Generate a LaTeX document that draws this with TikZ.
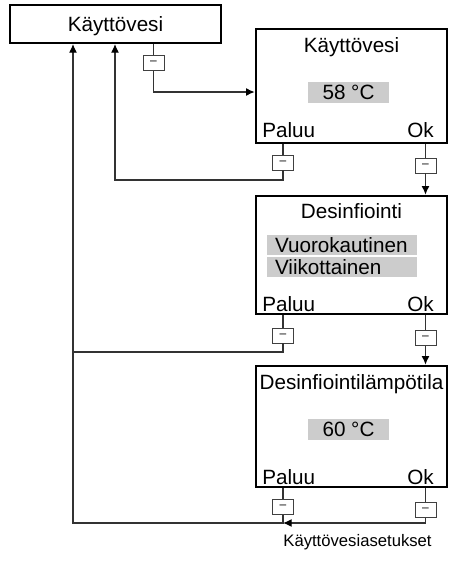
\documentclass[tikz,border=0pt]{standalone}
\usepackage{fontspec}
\setmainfont{Liberation Sans}
\usetikzlibrary{arrows.meta}
\begin{document}
\begin{tikzpicture}[x=0.75pt, y=-0.75pt, >={Latex[length=6.5pt,width=6pt,color=black]}, font=\fontsize{15.5}{18}\selectfont]
    % Hot water settings menu: screens and key presses
    \tikzset{menubox/.style={draw, line width=1.5pt, minimum width=158.25pt, minimum height=28.5pt, inner sep=0pt},
        screen/.style={draw, line width=2pt, minimum width=143.25pt, inner sep=0pt},
        title/.style={anchor=base, inner sep=0pt},
        valuebox/.style={fill=black!20, minimum width=60.75pt, minimum height=15.75pt, inner sep=0pt},
        listbox/.style={fill=black!20, text width=100.5pt, inner xsep=6pt, inner ysep=0pt, minimum height=15pt, align=left},
        keybox/.style={draw=black!75, fill=white, line width=0.6pt, minimum width=15.75pt, minimum height=11.25pt, inner sep=0pt, font=\fontsize{9}{9}\selectfont},
        link/.style={draw=black!80, line width=0.9pt}}
    \useasboundingbox (0,0) rectangle (455,579);
    \node[menubox] (top) at (115.5,24) {};
    \node[title] (toptext) at (115.5,31) {Käyttövesi};
    % screen 1
    \node[screen, minimum height=85.5pt] (scr1) at (351.5,86) {};
    \node[title] (tit1) at (351.5,52) {Käyttövesi};
    \node[valuebox] (val1) at (348.5,92.5) {58 °C};
    \node[anchor=base west, inner sep=0pt] (pal1) at (262,137) {Paluu};
    \node[anchor=base east, inner sep=0pt] (ok1) at (434,137) {Ok};
    % screen 2
    \node[screen, minimum height=88.5pt] (scr2) at (351.5,255) {};
    \node[title] (tit2) at (351.5,218) {Desinfiointi};
    \node[listbox] (opt1) at (342,245) {Vuorokautinen};
    \node[listbox] (opt2) at (342,267) {Viikottainen};
    \node[anchor=base west, inner sep=0pt] (pal2) at (262,311) {Paluu};
    \node[anchor=base east, inner sep=0pt] (ok2) at (434,311) {Ok};
    % screen 3
    \node[screen, minimum height=90.75pt] (scr3) at (351.5,426.5) {};
    \node[title] (tit3) at (351.5,389) {Desinfiointilämpötila};
    \node[valuebox] (val3) at (348.5,429) {60 °C};
    \node[anchor=base west, inner sep=0pt] (pal3) at (262,484) {Paluu};
    \node[anchor=base east, inner sep=0pt] (ok3) at (434,484) {Ok};
    % keys
    \node[keybox] (key0) at (153.5,63) {–};
    \node[keybox] (key1) at (283,162.5) {–};
    \node[keybox] (key2) at (425.5,165.5) {–};
    \node[keybox] (key3) at (283,335.5) {–};
    \node[keybox] (key4) at (425.5,338) {–};
    \node[keybox] (key5) at (283,507) {–};
    \node[keybox] (key6) at (425.5,510) {–};
    \coordinate (back1) at (115,180);
    \coordinate (back2) at (73,352);
    \coordinate (back3) at (73,523);
    % connectors
    \draw[link] (top.south -| key0) -- (key0);
    \draw[link, ->] (key0) |- ([yshift=-4.5pt]scr1.west);
    \draw[link, ->] (scr1.south -| key1) -- (key1) |- (back1) -- (back1 |- top.south);
    \draw[link, ->] (scr1.south -| key2) -- (key2) -- (key2 |- scr2.north);
    \draw[link] (scr2.south -| key3) -- (key3) |- (back2);
    \draw[link, ->] (scr2.south -| key4) -- (key4) -- (key4 |- scr3.north);
    \draw[link, ->] (scr3.south -| key5) -- (key5) |- (back3) -- (back3 |- top.south);
    \draw[link, ->] (scr3.south -| key6) -- (key6) |- (key5 |- back3);
    \node[anchor=base, inner sep=0pt, font=\fontsize{12.5}{15}\selectfont] (caption) at (357.5,546) {Käyttövesiasetukset};
\end{tikzpicture}
\end{document}
